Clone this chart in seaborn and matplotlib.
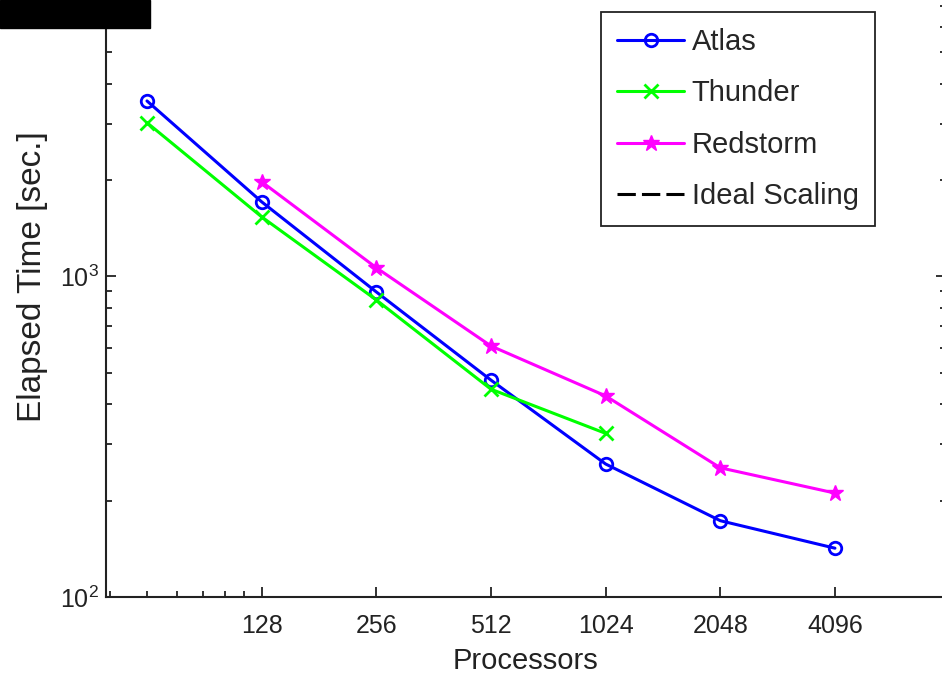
import numpy as np
import pandas as pd
import matplotlib
matplotlib.use("Agg")
import matplotlib.pyplot as plt
import seaborn as sns
from matplotlib.lines import Line2D
from matplotlib.patches import Rectangle
from matplotlib.ticker import FixedLocator, FixedFormatter, NullFormatter, LogFormatterMathtext

# values
atlas_procs = [64, 128, 256, 512, 1024, 2048, 4096]
atlas_time = [3530, 1710, 895, 475, 260, 173, 142]

thunder_procs = [64, 128, 256, 512, 1024]
thunder_time = [3020, 1535, 845, 445, 324]

redstorm_procs = [128, 256, 512, 1024, 2048, 4096]
redstorm_time = [1975, 1065, 607, 424, 253, 211]

x_ticks = [128, 256, 512, 1024, 2048, 4096]
x_tick_labels = ["128", "256", "512", "1024", "2048", "4096"]
y_ticks = [100, 1000]


def main():
    sns.set_style("ticks")
    plt.rcParams["font.family"] = ["Liberation Sans", "DejaVu Sans"]

    fig = plt.figure(figsize=(9.42, 6.76), dpi=100)
    # axes runs past the top and right of the picture, like the cropped original
    ax = fig.add_axes([0.1127, 79 / 676, 0.8912, 641 / 676])

    series = [
        ("Atlas", atlas_procs, atlas_time,
         dict(color="#0000ff", marker="o", mfc="none", mec="#0000ff", ms=9, mew=2)),
        ("Thunder", thunder_procs, thunder_time,
         dict(color="#00ff00", marker="x", mec="#00ff00", ms=10, mew=2)),
        ("Redstorm", redstorm_procs, redstorm_time,
         dict(color="#ff00ff", marker="*", mfc="#ff00ff", mec="#ff00ff", ms=12, mew=1)),
    ]
    for name, procs, times, style in series:
        df = pd.DataFrame({"Processors": procs, "Time": times})
        sns.lineplot(data=df, x="Processors", y="Time", ax=ax, label=name,
                     linewidth=2.2, **style)

    ax.set_xscale("log")
    ax.set_yscale("log")
    ax.set_xlim(50, 8000)
    ax.set_ylim(100, 10000)

    ax.xaxis.set_major_locator(FixedLocator(x_ticks))
    ax.xaxis.set_major_formatter(FixedFormatter(x_tick_labels))
    ax.xaxis.set_minor_locator(FixedLocator([128 * f for f in (0.4, 0.5, 0.6, 0.7, 0.8, 0.9)]))
    ax.xaxis.set_minor_formatter(NullFormatter())
    ax.yaxis.set_major_locator(FixedLocator(y_ticks))
    ax.yaxis.set_major_formatter(LogFormatterMathtext())

    ax.tick_params(which="both", direction="in", top=True, right=True,
                   colors="#222222", labelcolor="#222222", width=1.3)
    ax.tick_params(which="major", length=7, labelsize=18)
    ax.tick_params(which="minor", length=4)
    ax.tick_params(axis="x", which="major", pad=12)
    ax.tick_params(axis="y", which="major", pad=5)

    for side in ["left", "bottom", "right", "top"]:
        ax.spines[side].set_linewidth(1.5)
        ax.spines[side].set_color("#222222")

    ax.set_xlabel("Processors", fontsize=21, color="#222222", labelpad=7)
    ax.set_ylabel("Elapsed Time [sec.]", fontsize=24, color="#222222", labelpad=9)

    handles, labels = ax.get_legend_handles_labels()
    handles.append(Line2D([], [], color="black", linestyle=(0, (6, 2)), linewidth=2.2))
    labels.append("Ideal Scaling")
    leg = ax.legend(handles, labels, loc="upper right", bbox_to_anchor=(0.9156, 0.9126),
                    borderaxespad=0, fontsize=21, frameon=True, fancybox=False,
                    handlelength=2.3, handletextpad=0.25, labelspacing=0.8,
                    borderpad=0.55)
    leg.get_frame().set_edgecolor("#222222")
    leg.get_frame().set_linewidth(1.3)
    leg.get_frame().set_alpha(1)

    # black block in the top-left corner of the original image
    fig.patches.append(Rectangle((0, 1 - 28 / 676), 150 / 942, 28 / 676,
                                 transform=fig.transFigure, color="black", zorder=10))

    fig.savefig("out.png", dpi=100)
    plt.close(fig)


if __name__ == "__main__":
    main()
